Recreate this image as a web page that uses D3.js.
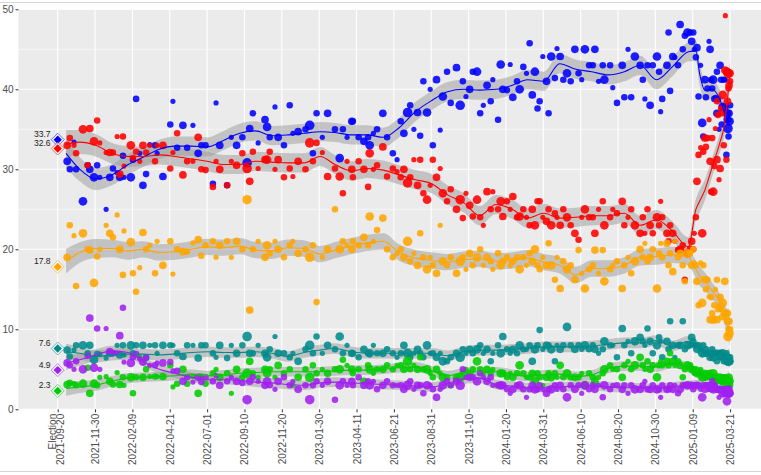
<!DOCTYPE html>
<html>
<head>
<meta charset="utf-8">
<script src="https://cdn.jsdelivr.net/npm/d3@7"></script>
<style>
  body { margin: 0; background: #fff; }
  svg { display: block; font-family: "Liberation Sans", Arial, sans-serif; }
</style>
</head>
<body>
<div id="chart"></div>
<script>
// ---------------------------------------------------------------------------
// Data
// ---------------------------------------------------------------------------
const pollDates = [
  "2021-10-08","2021-10-13","2021-10-21","2021-10-25","2021-11-07","2021-11-16","2021-11-20","2021-11-28","2021-12-04","2021-12-09",
  "2021-12-21","2021-12-28","2022-01-03","2022-01-11","2022-01-16","2022-01-22","2022-01-24","2022-02-06","2022-02-10","2022-02-16",
  "2022-02-23","2022-03-01","2022-03-07","2022-03-14","2022-03-24","2022-03-28","2022-04-08","2022-04-22","2022-04-27","2022-05-05",
  "2022-05-16","2022-05-24","2022-06-04","2022-06-14","2022-06-20",
  "2022-06-28","2022-07-12","2022-07-18","2022-07-25","2022-08-08","2022-08-16","2022-08-26","2022-09-06","2022-09-15","2022-09-20",
  "2022-09-26","2022-10-06","2022-10-19","2022-10-23","2022-10-28","2022-11-07","2022-11-13","2022-11-24","2022-12-05","2022-12-11",
  "2022-12-21","2023-01-04","2023-01-12","2023-01-18","2023-01-25","2023-02-05","2023-02-15","2023-03-01","2023-03-10","2023-03-16",
  "2023-03-24","2023-04-02","2023-04-04","2023-04-15","2023-04-25","2023-05-03","2023-05-06","2023-05-13","2023-05-20","2023-05-31",
  "2023-06-08","2023-06-19","2023-06-27",
  "2023-07-04","2023-07-10","2023-07-17","2023-07-22","2023-07-29","2023-08-05","2023-08-10","2023-08-16","2023-08-23","2023-08-29",
  "2023-09-03","2023-09-10","2023-09-17","2023-09-22","2023-09-30","2023-10-07","2023-10-18","2023-10-25","2023-10-30","2023-11-05",
  "2023-11-12","2023-11-18","2023-11-26","2023-12-02","2023-12-08","2023-12-15","2023-12-22","2023-12-26","2024-01-05","2024-01-10",
  "2024-01-14","2024-01-22","2024-01-28","2024-02-02","2024-02-10","2024-02-15","2024-02-22","2024-02-28","2024-03-05","2024-03-10",
  "2024-03-15","2024-03-20","2024-03-24","2024-03-30","2024-04-06","2024-04-10","2024-04-15","2024-04-22","2024-04-26","2024-05-02",
  "2024-05-08","2024-05-15","2024-05-22","2024-05-30","2024-06-06","2024-06-12","2024-06-18","2024-06-26",
  "2024-07-03","2024-07-07","2024-07-14","2024-07-22","2024-07-25","2024-08-05","2024-08-10","2024-08-18","2024-08-28","2024-09-01",
  "2024-09-08","2024-09-14","2024-09-21","2024-10-01","2024-10-06","2024-10-10","2024-10-15","2024-10-20","2024-10-25","2024-11-02",
  "2024-11-06","2024-11-09","2024-11-12","2024-11-21","2024-11-24","2024-11-27","2024-12-02","2024-12-06","2024-12-12","2024-12-16",
  "2024-12-21","2024-12-25","2024-12-30",
  "2025-01-04","2025-01-07","2025-01-10","2025-01-12","2025-01-15","2025-01-17","2025-01-20","2025-01-24","2025-01-27","2025-01-29",
  "2025-02-01","2025-02-03","2025-02-06","2025-02-09","2025-02-11","2025-02-13","2025-02-15","2025-02-17","2025-02-19","2025-02-21",
  "2025-02-24","2025-02-24","2025-02-26","2025-02-28","2025-03-02","2025-03-04","2025-03-05","2025-03-07","2025-03-09","2025-03-11",
  "2025-03-12","2025-03-14","2025-03-15","2025-03-16","2025-03-17","2025-03-18","2025-03-19","2025-03-20","2025-03-21"
];

const pollSampleSize = [
  2000,1500,1000,1500,2500,1500,2000,2500,1500,1000, 1000,2000,1500,1000,2000,1500,1000,2500,1500,1500,
  1000,2000,1500,1000,1500,1000,2000,1500,1000,1500, 2000,1500,1000,2000,1500,
  1500,1500,1000,2000,1500,1000,2000,1500,3000,2000, 1500,1000,2000,2500,1500,1000,2000,1500,1500,1000,
  2000,1500,3000,1500,1500,1000,2000,1500,2500,1500, 1000,2000,1500,1500,2000,1500,2500,1000,1500,2000,
  1500,1500,1000,
  1500,2000,3000,1500,1000,2000,1500,1500,2500,1000, 1500,2000,1000,2500,1500,1500,2000,3000,1500,1000,
  2000,1500,2500,1500,1000,2000,1500,1000,1500,2500, 2000,1500,1000,2000,1500,2500,1500,1000,1500,2000,
  2500,1500,1500,1000,2000,1500,2500,1500,1000,2000, 1500,2500,1500,2000,1500,1000,2500,1500,
  1500,2000,1000,1500,2500,1500,1000,1500,2000,1500, 1000,1500,2500,2000,1500,1000,1500,2000,1500,2500,
  1500,1000,1500,2000,1500,1500,2000,1000,1500,2000, 1500,1500,2500,
  1500,2000,1500,1000,1500,2000,1500,1000,2500,1500, 2000,1500,1500,1000,2000,1500,1500,2500,1500,1000,
  2000,1500,1500,1000,2000,1500,1500,2500,1500,2000, 1000,1500,2500,2000,3000,1500,2000,2500,1500
];

// Conservative (blue)
const cpcPolls = [
  31,30,33.4,30,26,30.5,30,29,30.5,29, 25,29,30.1,29.6,29,31.7,29,29,31.2,38.8,
  32,28,29.4,33.1,33,32,29.1,35.6,38.5,32.7, 35.5,32.7,35.5,32,33,
  33,28.2,38.3,33,28,34,33,34,30.8,35.1, 37,33.3,36.2,35.3,34,37.8,34,33,38,34.5,
  34.7,35,35.5,32,37,34,37,35,31.4,35, 34,36,36,34,33.5,34,33,34.5,35,37,
  34,32,31.2,
  36,34.5,37.1,38,35,37.1,34.2,41,37.1,40, 33,41.2,34.9,39.1,42.2,38.3,42.7,38,41,39.1,
  40,42.2,42.2,37,38,40.5,38.5,41.2,36.2,43.1, 40,39.9,43.1,39,41,40,42.8,42,45.75,39.3,
  42.2,37.6,38.5,44.1,41,37,44.1,41.4,45.1,44.1, 41.2,42,41,45,42,41.2,45,43,
  43,45,41,43,41.2,43,40.2,38.3,43,39, 45,39,44.1,43,41.2,38.8,43,38,43,44.1,
  42.2,37.2,38.8,43,47.1,39.8,44.1,44,43,48.1, 45,46.7,47.1,
  47.1,46,47.1,45,44,45.2,39.1,43,35.8,34.1, 41.2,39,40.1,46,45,41.2,40.1,41.2,38.8,39,
  37,42.2,38.8,35,43,41.2,35.6,37.8,41.2,37.8, 41.2,31.8,37,36.2,35.1,34.1,37,36,38
];

// Liberal (red)
const lpcPolls = [
  33,33.9,33,32,35,30.5,35.1,33.5,36.1,33.3, 32.1,32.1,32.1,34.1,29.4,34.1,30.4,33,31.4,32.2,
  31,33,32.1,33,31,33,33,30.1,32.1,34.5, 29.3,31,31,34,30,
  29.9,27.8,31,30,28,31,30.5,32,30.1,28.5, 32.2,30.1,31.2,31.2,32.2,30,31.2,29,30.1,29.1,
  31,30,33.3,31,33.3,32.1,29.1,30.1,29.1,27, 31,30,29,31,30,27.8,32,30,30.5,32.8,
  29.1,30.1,29.7,
  29,30,28.3,29,31.2,28,31.2,27,26.2,28, 31.2,29,30.1,27,26,27.5,25,26.2,23.9,27,
  25.5,24.1,26.2,24,23,27.2,25,27.2,25,26, 24.1,26,25,26.6,24,24.1,25,24,23,25,
  23,26,26,24,23.5,25,23,24.5,24,23, 25,24,23,22,21.2,24,25,24,
  24,22,25,26,23,24,25,24.5,26,23, 24,25,23,22,24,22,25,23,22,24,
  23,26,24,22,21,23,22,21,19.9,20, 20.5,16.2,19.5,
  20.1,21,20,22,24,28.5,31.8,32.7,22,32.2, 33.9,32.8,33.9,36.2,31,27.2,33.9,27.2,30.4,35.1,
  31.2,38.5,36.8,28.7,30.1,37.6,37,39.3,33,42.4, 49.2,31.2,42.2,38.5,42,40.1,40.5,42,41
];

// NDP (orange)
const ndpPolls = [
  19,23,21.7,15.4,22,20,19.9,15.8,19.1,20, 23,22,21.5,24.3,20,16.8,22.3,20.9,17,14.7,
  17.7,22.1,20,20.5,17,21,18,21,16.9,20, 19.7,19.7,20.8,21.2,19.2,
  20.5,21,19,20.5,21,19,21,20,26.2,12.4, 20,21,19,20.5,19.5,21,20,19,20.5,21,
  19.5,20,19,20.5,13.4,19,20,25,20,21, 20.5,20,21,20.5,21.5,20.5,24.1,21,22.4,23.9,
  20,19,19.5,
  20,19,21,18.5,19.5,18,22,19,17.5,19, 18,17,23,18.5,18,19,17,18.5,19,17.5,
  19.5,18,19,20,18,19,18.5,17.5,19.5,18, 18.5,19,18,18.5,19,17.5,19,18,19.5,18.5,
  20,18,17.5,19,18,20.75,18,16.2,19,15.1, 18.5,17.5,18,16.2,19.9,17,15.1,17.5,
  18,19.9,17,19.9,16,17.5,18,18.5,15.1,18, 19,17,18.5,20,19,20.75,18.5,19,20,15.1,
  19.5,20.75,19,20.75,18,19.5,17.2,21,19,19.5, 18,16,19.5,
  19.5,18,20,18.3,18,16,13,18.3,13.3,18, 16.2,15,16.2,14.1,11.2,14,12,11.2,13,15,
  11.2,16.2,12.5,13,14,12.5,11.5,13.3,12,16, 12,12,12,11,9.1,10,11,9.5,10
];

// Bloc Québécois (teal)
const bqPolls = [
  7.4,6.6,7.4,8,8,7,8,6.2,6.9,6.9, 6.4,7,7,8,6.8,8,6.8,8,7,8,
  6.4,8,6.4,8,8,7,8,8,8,7, 6.6,8,8,6.4,8,
  8,7,6.5,8,6.4,8,7,8,9.1,7, 7,8,7,6.5,7.5,9.1,7,7,6.5,7,
  6,7.5,8,7,9.1,7,8,7.5,9.1,7, 8,7,7,6.5,7.5,7,7,8,7,7,
  7.5,7,6.5,
  7,8,7,6.5,7,7.5,7,6.5,8,7, 7,6.5,7,6,6,6.5,7,6.5,7.5,7,
  7.5,7,7.5,8,7,7.5,6,7,8,7, 9.1,7.5,7,7.5,7,8,7.5,7.5,8,6,
  7.5,8,9.9,7.5,8,8,7.5,6,8,7.5, 8,10.3,8,7.5,8,7.5,8,7.5,
  8,7.5,7,7.5,8.5,8,8,6.5,10.1,8, 8.5,7,8.5,9,8.5,8,10.1,8.5,7,8,
  9,8.5,6.5,8.5,7.5,11,8,6.5,8,8, 11,7.5,8,
  8,9,8.5,8,8,7.5,8,7.5,7,8, 7,7.5,7,7,6.5,7,7.5,6.5,7,7,
  7,6,7,6.5,7,6.5,6.5,7,6,6.5, 6,7,6.5,6,6,6.5,6,6,6.5
];

// Green (green)
const gpcPolls = [
  3.1,3.3,3.2,3,3.2,5.2,2,3.2,3,4, 4.1,3.5,3.1,4.6,3.1,4,3,4,2,4,
  6.6,4,5,4.1,4.1,4.1,4.1,5.5,2.8,3.2, 5,3.2,4.1,2,4.1,
  3.2,4.5,5,4,4.5,2,5,4,4.5,6, 4.5,4,5,4.5,5,4,5.5,4.5,5,3,
  4,5,4,5.5,4.5,5,4.5,5,5,6.2, 5.5,5,4.5,5,3.5,5.5,5,4.5,5,5,
  5.5,5,5.5,
  5.5,5,6,5,5.5,5,6.5,5,5,4.5, 4,5,4.5,4,4,3,4,4,4.5,5,
  4.5,5,6,5,4.5,5,4.5,5,3,4.5, 4.5,4,4.5,4,4.5,5.5,4.5,4,4,4.5,
  3.5,4.5,4,3,4,4.5,4,4.5,4,5.5, 4,4.5,4,4,4,4.5,3,4.5,
  4,3.5,4,4.5,5,5.5,5,5,4,5.5, 6,5,5.5,6.5,5.5,5,6,5,5.5,4,
  5.5,6,5.5,6,5.5,7,6,5.5,6,5.5, 4,5,5.5,
  5.5,5,5,4.5,5,4.5,4.5,5,4,4.5, 4,4.5,4,4,4.5,4,4,4.5,3.5,4,
  4,3.5,4,3.5,4,3.5,4,3.5,4,3.5, 3,4,3.5,3.5,3.5,3,4,3.5,3
];

// People's Party (purple)
const ppcPolls = [
  5.8,5.5,5,6,5,6.7,11.4,5.2,10.1,5, 10.1,7.2,7,7,9.2,12.7,5.9,5.8,6.5,6.9,
  6.3,5.9,6.5,5.5,5.5,5.8,5.8,5.9,4.8,4.8, 3.5,4,3.4,4,3.4,
  4,3.5,4.2,3,3.5,4,3.5,3.3,1.2,3.5, 4,3.5,3,3.5,3,2.5,3.5,4,3,3.5,
  2.5,3,1.2,3,3.5,3,3.5,1.2,3,3.5, 3,3.5,3,4,3,3.5,3,3.5,2.5,3,
  3.5,3,3,
  3,2.5,3,3.5,2.5,3,3,2,3,3, 2.5,1.5,2.5,3,3.5,3,3.5,3,5,4,
  4,4,3.5,4.5,4,3.5,4,3,3,3, 3,2.5,2,2.5,3,3,2.5,1.5,2.5,3,
  2.5,2.5,3,2.5,2,2.5,2.5,3,2.5,3, 2.5,1.5,3,2.5,3,2,3,2.5,
  3,2.5,3,1.5,3,2.5,3,3,2.5,3, 2,3,2.5,2.5,3,3.5,2.5,2.5,3,2.5,
  2.5,1.5,3,2.5,2.5,3,2.5,3,2,2.5, 3,3,3,
  3,3,2.5,3,3,3,3,2.5,1.5,3, 2.5,3,3,2.5,3,2.5,3.5,2.5,3,3,
  2.5,2.5,2.5,1.5,2.5,2.5,2.5,2,2.5,2, 2.5,2.5,1,2.5,2,2,2.5,2,2
];

// Smoothed trends and band half-width
const trendDates = [
  "2021-10-06","2021-11-01","2021-12-01","2022-01-01","2022-02-01","2022-03-01","2022-04-01","2022-05-01","2022-06-01","2022-07-01",
  "2022-08-01","2022-09-01","2022-10-01","2022-11-01","2022-12-01","2023-01-01","2023-02-01","2023-03-01","2023-04-01","2023-05-01",
  "2023-06-01","2023-07-01","2023-08-01","2023-09-01","2023-10-01","2023-11-01","2023-12-01","2024-01-01","2024-02-01","2024-03-01",
  "2024-04-01","2024-05-01","2024-06-01","2024-07-01","2024-08-01","2024-09-01","2024-10-01","2024-11-01","2024-12-01","2025-01-01",
  "2025-01-15","2025-01-22","2025-02-01","2025-02-15","2025-03-01","2025-03-10","2025-03-20"
];
const cpcTrend = [32.0,30.0,28.8,29.3,30.6,31.5,32.5,32.9,32.9,32.8, 33.6,34.5,34.8,34.2,34.3,34.5,34.7,34.6,34.3,34.3,
  34.0,35.2,37.2,38.6,39.7,40.0,39.9,40.0,40.5,41.2, 41.0,43.2,42.5,42.2,41.8,42.2,43.0,41.2,42.8,44.7, 44.8,42.0,39.9,40.0,38.8,37.2,35.8];
const lpcTrend = [33.1,33.4,33.0,32.0,31.6,31.6,31.8,31.6,31.3,31.0, 30.6,30.6,31.0,30.9,30.8,30.8,31.6,30.6,29.8,30.1,
  29.9,29.3,28.7,28.2,26.8,25.8,24.2,25.6,25.0,23.9, 24.5,23.9,24.0,24.2,24.2,24.5,23.0,23.7,22.3,20.3, 25.0,26.0,27.4,30.3,33.2,35.5,41.5];
const ndpTrend = [18.5,19.6,20.1,20.1,19.8,20.0,19.6,19.7,20.0,20.3, 20.2,20.4,19.9,19.8,20.2,20.1,19.4,19.9,20.4,20.8,
  21.0,19.6,18.9,18.6,18.4,18.7,18.8,18.5,18.6,18.9, 18.4,18.0,16.8,17.6,17.6,18.0,19.0,19.1,19.3,19.0, 17.5,16.7,16.0,14.8,13.5,12.0,9.8];
const bqTrend = [7.2,7.0,6.6,6.8,6.9,6.9,6.8,6.9,7.1,7.2, 7.1,7.1,7.2,7.0,6.6,7.1,7.4,7.6,7.2,7.0,
  7.0,7.0,7.0,7.0,6.7,7.2,7.4,7.4,7.5,7.6, 7.8,7.8,7.8,7.9,8.1,8.3,8.3,8.6,7.9,8.5, 7.9,7.6,7.3,7.0,6.7,6.5,6.4];
const gpcTrend = [2.6,2.8,3.0,3.5,3.9,4.0,4.1,4.2,4.4,4.2, 4.3,4.5,4.6,4.7,4.7,4.7,4.7,4.8,4.9,4.9,
  5.0,5.2,5.3,4.8,4.2,4.6,4.7,4.7,4.4,4.1, 4.3,4.4,4.1,4.3,5.1,5.4,5.4,5.3,5.7,5.2, 4.6,4.5,4.4,4.2,3.9,3.7,3.6];
const ppcTrend = [5.8,6.2,6.8,7.3,7.1,6.0,5.0,4.5,4.0,3.7, 3.7,3.6,3.4,3.3,3.1,3.0,3.3,3.4,3.3,3.2,
  3.1,3.0,2.9,2.8,3.2,3.8,3.9,3.1,2.9,2.7, 2.7,2.8,2.9,3.0,2.8,2.7,2.7,2.6,2.8,3.0, 3.0,3.0,2.9,2.8,2.6,2.5,2.4];
const bandHalfWidth = [1.8,1.5,1.4,1.3,1.3,1.2,1.2,1.2,1.2,1.2, 1.2,1.2,1.2,1.2,1.2,1.2,1.2,1.2,1.2,1.2,
  1.2,1.2,1.2,1.2,1.2,1.2,1.2,1.2,1.2,1.2, 1.2,1.2,1.2,1.2,1.2,1.2,1.2,1.2,1.2,1.2, 1.3,1.4,1.3,1.2,1.2,1.4,2.2];

// 2021 election result
const electionDate = "2021-09-20";
const partyKeys = ["cpc", "lpc", "ndp", "bq", "gpc", "ppc"];
const partyColors = ["#0000FF", "#FF0000", "#FFA500", "#008B8B", "#00CD00", "#A020F0"];
const electionValues = [33.7, 32.6, 17.8, 7.6, 2.3, 4.9];
const bandScale = [1, 1, 0.85, 0.55, 0.5, 0.5];

const tickDates = ["2021-09-20","2021-11-30","2022-02-09","2022-04-21","2022-07-01","2022-09-10","2022-11-20","2023-01-30",
  "2023-04-11","2023-06-21","2023-08-31","2023-11-10","2024-01-20","2024-03-31","2024-06-10","2024-08-20","2024-10-30",
  "2025-01-09","2025-03-21"];
const yTicks = [0, 10, 20, 30, 40, 50];
const yMinor = [5, 15, 25, 35, 45];

// ---------------------------------------------------------------------------
const parseDate = d3.timeParse('%Y-%m-%d');
const pollsByParty = [cpcPolls, lpcPolls, ndpPolls, bqPolls, gpcPolls, ppcPolls];
const trendsByParty = [cpcTrend, lpcTrend, ndpTrend, bqTrend, gpcTrend, ppcTrend];

const series = partyKeys.map((key, i) => ({
  key,
  color: partyColors[i],
  election: electionValues[i],
  k: bandScale[i],
  polls: pollDates.map((d, j) => ({ date: parseDate(d), v: pollsByParty[i][j], n: pollSampleSize[j] }))
    .filter(p => p.v != null),
  trend: trendDates.map((d, j) => ({ date: parseDate(d), v: trendsByParty[i][j], se: bandHalfWidth[j] }))
}));

const W = 761, H = 475;
const panel = { left: 18.5, top: 9.3, right: 761, bottom: 409.3 };

const x = d3.scaleTime()
  .domain([parseDate('2021-09-20'), parseDate('2025-03-21')])
  .range([57.7, 730.1]);
const y = d3.scaleLinear().domain([0, 50]).range([panel.bottom, panel.top]);
const r = d3.scaleSqrt().domain([1000, 3000]).range([2.6, 4.8]).clamp(true);

const svg = d3.select('#chart').append('svg')
  .attr('width', W).attr('height', H)
  .attr('viewBox', `0 0 ${W} ${H}`);

// page frame lines
svg.append('line').attr('x1', 0).attr('x2', W).attr('y1', 2.5).attr('y2', 2.5)
  .attr('stroke', '#d2d5d9').attr('stroke-width', 1);
svg.append('line').attr('x1', 0).attr('x2', W).attr('y1', 471.5).attr('y2', 471.5)
  .attr('stroke', '#d2d5d9').attr('stroke-width', 1);

// Panel + grid
svg.append('rect')
  .attr('x', panel.left).attr('y', panel.top)
  .attr('width', panel.right - panel.left).attr('height', panel.bottom - panel.top)
  .attr('fill', '#ebebeb');

svg.append('defs').append('clipPath').attr('id', 'clip')
  .append('rect')
  .attr('x', panel.left).attr('y', panel.top)
  .attr('width', panel.right - panel.left).attr('height', panel.bottom - panel.top);

const grid = svg.append('g');
grid.selectAll('.minor').data(yMinor).join('line')
  .attr('x1', panel.left).attr('x2', panel.right)
  .attr('y1', d => y(d)).attr('y2', d => y(d))
  .attr('stroke', '#fff').attr('stroke-width', 0.55);
grid.selectAll('.major').data(yTicks).join('line')
  .attr('x1', panel.left).attr('x2', panel.right)
  .attr('y1', d => y(d)).attr('y2', d => y(d))
  .attr('stroke', '#fff').attr('stroke-width', 1.1);
grid.selectAll('.vmajor').data(tickDates).join('line')
  .attr('x1', d => x(parseDate(d))).attr('x2', d => x(parseDate(d)))
  .attr('y1', panel.top).attr('y2', panel.bottom)
  .attr('stroke', '#fff').attr('stroke-width', 1.1);

const plot = svg.append('g').attr('clip-path', 'url(#clip)');

// Confidence bands
const band = d3.area()
  .x(d => x(d.date))
  .curve(d3.curveMonotoneX);
series.forEach(s => {
  plot.append('path').datum(s.trend)
    .attr('d', band.y0(d => y(d.v - d.se * s.k)).y1(d => y(d.v + d.se * s.k)))
    .attr('fill', '#999').attr('fill-opacity', 0.5);
});

// Poll points
series.forEach(s => {
  plot.append('g').selectAll('circle').data(s.polls).join('circle')
    .attr('cx', d => x(d.date)).attr('cy', d => y(d.v))
    .attr('r', d => r(d.n))
    .attr('fill', s.color).attr('fill-opacity', 0.88);
});

// Trend lines
const line = d3.line().x(d => x(d.date)).y(d => y(d.v)).curve(d3.curveMonotoneX);
series.forEach(s => {
  plot.append('path').datum(s.trend)
    .attr('d', line)
    .attr('fill', 'none').attr('stroke', s.color).attr('stroke-width', 1.1);
});

// Election result markers
const diamond = (cx, cy, h) => `M${cx},${cy - h}L${cx + h},${cy}L${cx},${cy + h}L${cx - h},${cy}Z`;
const ex = x(parseDate(electionDate));
series.forEach(s => {
  const cy = y(s.election);
  svg.append('path').attr('d', diamond(ex, cy, 6.5))
    .attr('fill', '#fff').attr('fill-opacity', 0.55)
    .attr('stroke', s.color).attr('stroke-opacity', 0.55).attr('stroke-width', 1);
  svg.append('path').attr('d', diamond(ex, cy, 4.2))
    .attr('fill', s.color);
  svg.append('text')
    .attr('x', 50.5).attr('y', cy - 5.5).attr('dy', '0.35em')
    .attr('text-anchor', 'end').attr('font-size', '8.5px').attr('fill', '#222')
    .text(s.election.toFixed(1));
});

// Axes
const yAxis = svg.append('g')
  .attr('transform', `translate(${panel.left},0)`)
  .call(d3.axisLeft(y).tickValues(yTicks).tickSize(3).tickPadding(2));
yAxis.select('.domain').remove();
yAxis.selectAll('line').attr('stroke', '#333');
yAxis.selectAll('text').attr('font-size', '10px').attr('fill', '#4d4d4d')
  .attr('font-family', '"Liberation Sans", Arial, sans-serif');

const xAxis = svg.append('g')
  .attr('transform', `translate(0,${panel.bottom})`)
  .call(d3.axisBottom(x).tickValues(tickDates.map(parseDate))
    .tickFormat(d3.timeFormat('%Y-%m-%d')).tickSize(3));
xAxis.select('.domain').remove();
xAxis.selectAll('line').attr('stroke', '#333');
xAxis.selectAll('text')
  .attr('font-size', '10px').attr('fill', '#4d4d4d')
  .attr('font-family', '"Liberation Sans", Arial, sans-serif')
  .attr('text-anchor', 'end')
  .attr('transform', 'translate(0,4.5) rotate(-90)')
  .attr('x', 0).attr('y', 0).attr('dy', '0.35em');

// first tick: two-line label "Election / 2021-09-20"
const firstTick = xAxis.select('.tick');
firstTick.select('text').attr('transform', 'translate(1.8,4.5) rotate(-90)');
firstTick.append('text')
  .attr('font-size', '10px').attr('fill', '#4d4d4d')
  .attr('font-family', '"Liberation Sans", Arial, sans-serif')
  .attr('text-anchor', 'end')
  .attr('transform', 'translate(-6.2,4.5) rotate(-90)')
  .attr('dy', '0.35em')
  .text('Election');
</script>
</body>
</html>
